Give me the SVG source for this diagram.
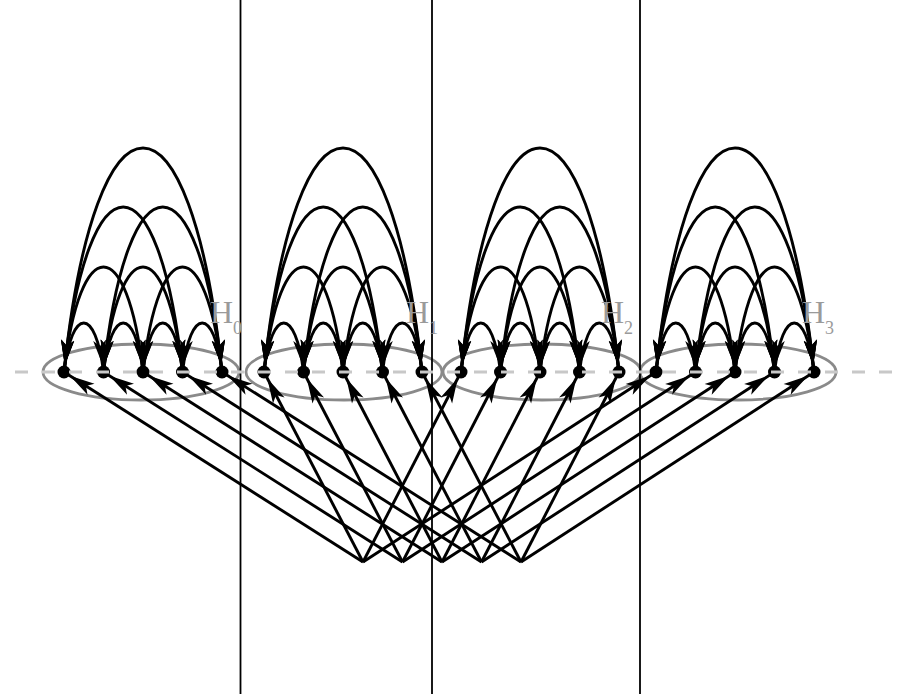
<svg xmlns="http://www.w3.org/2000/svg" xmlns:xlink="http://www.w3.org/1999/xlink" width="898" height="694" viewBox="0 0 898 694">
<style>
.arc{fill:none;stroke:#000;stroke-width:2.9;marker-start:url(#ah);marker-end:url(#ah)}
.ln{stroke:#000;stroke-width:2.9;marker-end:url(#ah)}
.ell{fill:none;stroke:#8a8a8a;stroke-width:2.8}
.node{fill:#000}
.vl{stroke:#000;stroke-width:1.8}
.lab{font-family:"Liberation Serif","Times New Roman",serif;font-size:32px;fill:#9a9a9a}
.sub{font-size:18px}
</style>
<defs>
<marker id="ah" markerUnits="userSpaceOnUse" markerWidth="44" markerHeight="16" refX="40" refY="8" orient="auto-start-reverse">
<path d="M33,8 L8,1.5 L14,8 L8,14.5 Z" fill="#000"/>
</marker>
<g id="arcs">
<path class="arc" d="M0,372 C7.9,306.7 31.6,306.7 39.5,372"/>
<path class="arc" d="M39.5,372 C47.4,306.7 71.1,306.7 79,372"/>
<path class="arc" d="M79,372 C86.9,306.7 110.6,306.7 118.5,372"/>
<path class="arc" d="M118.5,372 C126.4,306.7 150.1,306.7 158,372"/>
<path class="arc" d="M0,372 C15.8,232 63.2,232 79,372"/>
<path class="arc" d="M39.5,372 C55.3,232 102.7,232 118.5,372"/>
<path class="arc" d="M79,372 C94.8,232 142.2,232 158,372"/>
<path class="arc" d="M0,372 C23.7,152 94.8,152 118.5,372"/>
<path class="arc" d="M39.5,372 C63.2,152 134.3,152 158,372"/>
<path class="arc" d="M0,372 C31.6,73.3 126.4,73.3 158,372"/>
</g>
</defs>
<rect width="898" height="694" fill="#fff"/>
<g id="ellipses">
<ellipse class="ell" cx="141" cy="372" rx="98" ry="28"/>
<ellipse class="ell" cx="344" cy="372" rx="98" ry="28"/>
<ellipse class="ell" cx="542" cy="372" rx="99" ry="28"/>
<ellipse class="ell" cx="738" cy="372" rx="98" ry="28"/>
</g>
<g id="walls">
<line class="vl" x1="240.5" y1="0" x2="240.5" y2="694"/>
<line class="vl" x1="432" y1="0" x2="432" y2="694"/>
<line class="vl" x1="640" y1="0" x2="640" y2="694"/>
</g>
<g id="connectors">
<use xlink:href="#arcs" transform="translate(64,0)"/>
<use xlink:href="#arcs" transform="translate(264,0)"/>
<use xlink:href="#arcs" transform="translate(461,0)"/>
<use xlink:href="#arcs" transform="translate(656,0)"/>
<line class="ln" x1="363" y1="562" x2="64" y2="372"/>
<line class="ln" x1="402.5" y1="562" x2="103.5" y2="372"/>
<line class="ln" x1="442" y1="562" x2="143" y2="372"/>
<line class="ln" x1="481.5" y1="562" x2="182.5" y2="372"/>
<line class="ln" x1="521" y1="562" x2="222" y2="372"/>
<line class="ln" x1="363" y1="562" x2="264" y2="372"/>
<line class="ln" x1="402.5" y1="562" x2="303.5" y2="372"/>
<line class="ln" x1="442" y1="562" x2="343" y2="372"/>
<line class="ln" x1="481.5" y1="562" x2="382.5" y2="372"/>
<line class="ln" x1="521" y1="562" x2="422" y2="372"/>
<line class="ln" x1="363" y1="562" x2="461" y2="372"/>
<line class="ln" x1="402.5" y1="562" x2="500.5" y2="372"/>
<line class="ln" x1="442" y1="562" x2="540" y2="372"/>
<line class="ln" x1="481.5" y1="562" x2="579.5" y2="372"/>
<line class="ln" x1="521" y1="562" x2="619" y2="372"/>
<line class="ln" x1="363" y1="562" x2="656" y2="372"/>
<line class="ln" x1="402.5" y1="562" x2="695.5" y2="372"/>
<line class="ln" x1="442" y1="562" x2="735" y2="372"/>
<line class="ln" x1="481.5" y1="562" x2="774.5" y2="372"/>
<line class="ln" x1="521" y1="562" x2="814" y2="372"/>
</g>
<g id="n0-0"><circle class="node" cx="64" cy="372" r="6.5"/></g>
<g id="n0-1"><circle class="node" cx="103.5" cy="372" r="6.5"/></g>
<g id="n0-2"><circle class="node" cx="143" cy="372" r="6.5"/></g>
<g id="n0-3"><circle class="node" cx="182.5" cy="372" r="6.5"/></g>
<g id="n0-4"><circle class="node" cx="222" cy="372" r="6.5"/></g>
<g id="n1-0"><circle class="node" cx="264" cy="372" r="6.5"/></g>
<g id="n1-1"><circle class="node" cx="303.5" cy="372" r="6.5"/></g>
<g id="n1-2"><circle class="node" cx="343" cy="372" r="6.5"/></g>
<g id="n1-3"><circle class="node" cx="382.5" cy="372" r="6.5"/></g>
<g id="n1-4"><circle class="node" cx="422" cy="372" r="6.5"/></g>
<g id="n2-0"><circle class="node" cx="461" cy="372" r="6.5"/></g>
<g id="n2-1"><circle class="node" cx="500.5" cy="372" r="6.5"/></g>
<g id="n2-2"><circle class="node" cx="540" cy="372" r="6.5"/></g>
<g id="n2-3"><circle class="node" cx="579.5" cy="372" r="6.5"/></g>
<g id="n2-4"><circle class="node" cx="619" cy="372" r="6.5"/></g>
<g id="n3-0"><circle class="node" cx="656" cy="372" r="6.5"/></g>
<g id="n3-1"><circle class="node" cx="695.5" cy="372" r="6.5"/></g>
<g id="n3-2"><circle class="node" cx="735" cy="372" r="6.5"/></g>
<g id="n3-3"><circle class="node" cx="774.5" cy="372" r="6.5"/></g>
<g id="n3-4"><circle class="node" cx="814" cy="372" r="6.5"/></g>
<line x1="15" y1="372" x2="895" y2="372" stroke="#c8c8c8" stroke-width="3" stroke-dasharray="13 14"/>
<g id="labels">
<text class="lab" x="210" y="323">H<tspan class="sub" dy="11">0</tspan></text>
<text class="lab" x="406" y="323">H<tspan class="sub" dy="11">1</tspan></text>
<text class="lab" x="601" y="323">H<tspan class="sub" dy="11">2</tspan></text>
<text class="lab" x="802" y="323">H<tspan class="sub" dy="11">3</tspan></text>
</g>
</svg>
